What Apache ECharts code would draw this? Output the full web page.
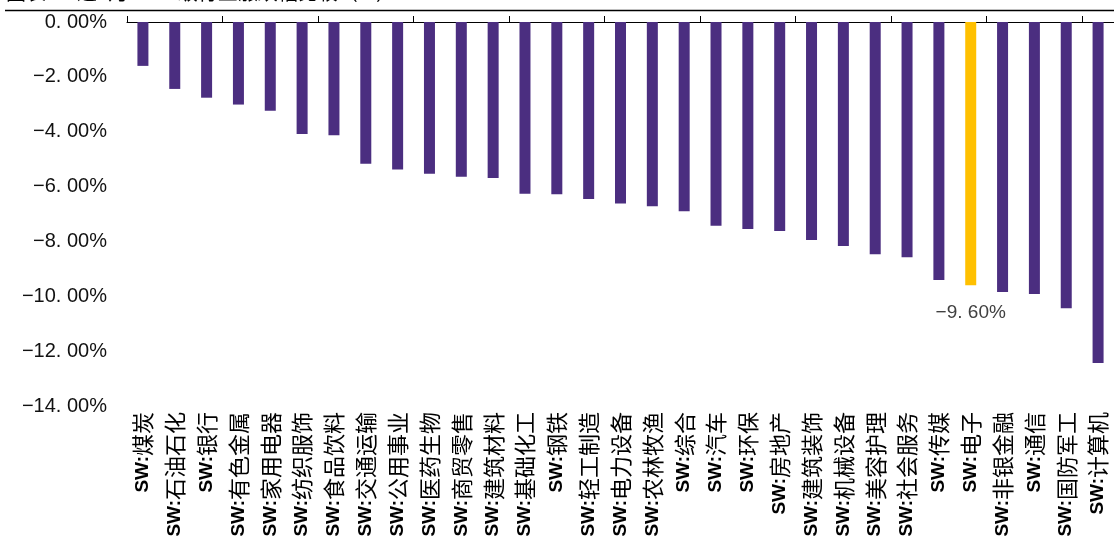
<!DOCTYPE html>
<html>
<head>
<meta charset="utf-8">
<script src="https://cdn.jsdelivr.net/npm/echarts@6/dist/echarts.min.js"></script>
<style>
  html, body { margin: 0; padding: 0; background: #fff; }
  #chart { width: 1114px; height: 542px; }
</style>
</head>
<body>
<div id="chart"></div>
<script>
// SW level-1 industries, one-month change (%)
const categories = [
  'SW:煤炭', 'SW:石油石化', 'SW:银行', 'SW:有色金属', 'SW:家用电器', 'SW:纺织服饰',
  'SW:食品饮料', 'SW:交通运输', 'SW:公用事业', 'SW:医药生物', 'SW:商贸零售', 'SW:建筑材料',
  'SW:基础化工', 'SW:钢铁', 'SW:轻工制造', 'SW:电力设备', 'SW:农林牧渔', 'SW:综合',
  'SW:汽车', 'SW:环保', 'SW:房地产', 'SW:建筑装饰', 'SW:机械设备', 'SW:美容护理',
  'SW:社会服务', 'SW:传媒', 'SW:电子', 'SW:非银金融', 'SW:通信', 'SW:国防军工', 'SW:计算机'
];
const changes = [
  -1.60, -2.44, -2.76, -3.01, -3.24, -4.08,
  -4.13, -5.17, -5.38, -5.53, -5.64, -5.69,
  -6.26, -6.28, -6.45, -6.62, -6.72, -6.90,
  -7.43, -7.55, -7.62, -7.95, -8.17, -8.47,
  -8.58, -9.41, -9.60, -9.84, -9.92, -10.44, -12.43
];
const highlighted = 'SW:电子';
const chartTitle = '图表5：近1月SW一级行业涨跌幅比较（%）';
const yTicks = { min: -14, max: 0, step: 2 };

const PURPLE = '#4b2e80';
const GOLD = '#ffc000';

function pct(v) {
  const sign = v < 0 ? '\u2212' : '';
  return sign + Math.abs(v).toFixed(2).replace('.', '. ') + '%';
}

const chart = echarts.init(document.getElementById('chart'), null, { renderer: 'canvas' });

const barData = changes.map((v, i) => {
  const isHi = categories[i] === highlighted;
  return {
    value: v,
    itemStyle: { color: isHi ? GOLD : PURPLE },
    label: isHi ? {
      show: true,
      position: 'bottom',
      distance: 18,
      color: '#404040',
      fontSize: 19,
      fontFamily: 'Liberation Sans',
      formatter: p => pct(p.value)
    } : { show: false }
  };
});

chart.setOption({
  animation: false,
  backgroundColor: '#fff',
  graphic: [{
    // heading sits above the rule, running off the top edge
    type: 'text',
    x: 6,
    y: -18,
    style: {
      text: chartTitle,
      fontSize: 20,
      fontFamily: 'Noto Sans CJK SC',
      fill: '#000',
      textVerticalAlign: 'top'
    }
  }, {
    type: 'line',
    shape: { x1: 5, y1: 10.5, x2: 1114, y2: 10.5 },
    style: { stroke: '#000', lineWidth: 1.5 }
  }],
  grid: { left: 127, right: -1, top: 22, bottom: 136, containLabel: false },
  xAxis: [{
    type: 'category',
    data: categories,
    position: 'top',
    axisLine: { show: true, onZero: false, lineStyle: { color: '#000', width: 1 } },
    axisTick: { show: true, inside: false, length: 6, alignWithLabel: false, lineStyle: { color: '#000' } },
    axisLabel: { show: false },
    splitLine: { show: false }
  }, {
    type: 'category',
    data: categories,
    position: 'bottom',
    axisLine: { show: false },
    axisTick: { show: false },
    axisLabel: {
      show: true,
      rotate: 90,
      margin: 6,
      interval: 0,
      color: '#000',
      formatter: v => v.startsWith('SW:') ? '{sw|SW:}{cn|' + v.slice(3) + '}' : v,
      rich: {
        sw: { fontFamily: 'Liberation Sans Narrow, Liberation Sans', fontWeight: 'bold', fontSize: 19, color: '#000' },
        cn: { fontFamily: 'Noto Sans CJK SC', fontSize: 22, color: '#000' }
      }
    },
    splitLine: { show: false }
  }],
  yAxis: {
    type: 'value',
    min: yTicks.min,
    max: yTicks.max,
    interval: yTicks.step,
    axisLine: { show: false },
    axisTick: { show: false },
    splitLine: { show: false },
    axisLabel: {
      margin: 20,
      color: '#111',
      fontSize: 20,
      fontFamily: 'Liberation Sans',
      formatter: v => pct(v)
    }
  },
  series: [{
    type: 'bar',
    xAxisIndex: 0,
    data: barData,
    barWidth: 11
  }]
});
</script>
</body>
</html>
